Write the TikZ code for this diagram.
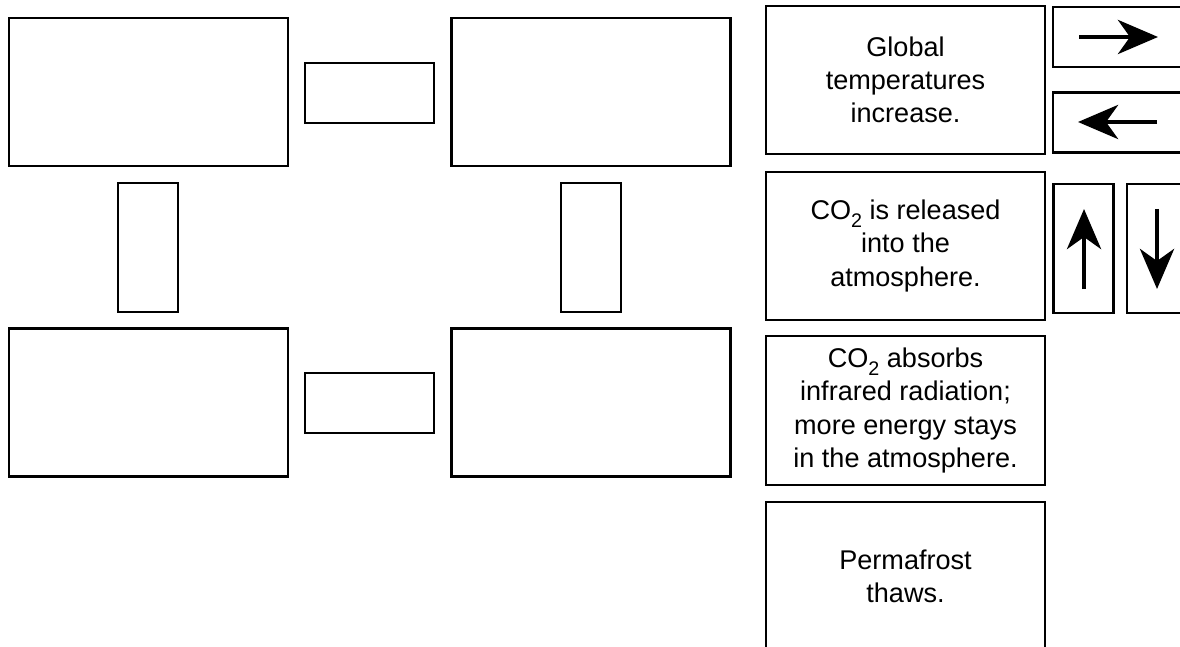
\documentclass[tikz,border=0pt]{standalone}
\usepackage{fontspec}
\setmainfont{Liberation Sans}
\usetikzlibrary{arrows.meta}
\newcommand{\subtwo}{\raisebox{-0.55ex}{\fontsize{5.6pt}{5.6pt}\selectfont 2}}
\tikzset{
  box/.style={draw=black, line width=0.65pt, inner sep=0pt, align=center,
    font=\fontsize{7.7pt}{9.4pt}\selectfont},
  bigbox/.style={box, minimum width=2.79cm, minimum height=1.48cm},
  hbox/.style={box, minimum width=1.29cm, minimum height=0.60cm},
  vbox/.style={box, minimum width=0.60cm, minimum height=1.29cm},
  arr/.style={line width=1.4pt, -{Stealth[length=4.0mm, width=3.4mm, inset=1.2mm]}},
}
\begin{document}
\begin{tikzpicture}[x=0.01cm, y=-0.01cm]
\clip (0,0) rectangle (1180,646);
\fill[white] (0,0) rectangle (1180,646);
% empty layout boxes
\node[bigbox] (a) at (148.5,92) {};
\node[hbox] (h1) at (369.5,93) {};
\node[bigbox] (b) at (591,92) {};
\node[vbox] (v1) at (148,247.5) {};
\node[vbox] (v2) at (591,247.5) {};
\node[bigbox] (c) at (148.5,402.5) {};
\node[hbox] (h2) at (369.5,403) {};
\node[bigbox] (d) at (591,402.5) {};
% statement cards
\node[bigbox] (g) at (905.5,80) {Global\\temperatures\\increase.};
\node[bigbox] (r) at (905.5,246) {CO\subtwo\ is released\\into the\\atmosphere.};
\node[bigbox, minimum height=1.49cm] (ab) at (905.5,410.5) {CO\subtwo\ absorbs\\infrared radiation;\\more energy stays\\in the atmosphere.};
\node[bigbox] (p) at (905.5,576) {Permafrost\\thaws.};
% arrow cards
\node[hbox] (ra) at (1117.5,37) {};
\node[hbox] (la) at (1117.5,122.5) {};
\node[vbox] (ua) at (1083.5,248.5) {};
\node[vbox] (da) at (1157,248.5) {};
\coordinate (ra1) at (1079,37);
\coordinate (ra2) at (1158,37);
\coordinate (la1) at (1157,122);
\coordinate (la2) at (1078,122);
\coordinate (ua1) at (1084,289);
\coordinate (ua2) at (1084,209);
\coordinate (da1) at (1157,209);
\coordinate (da2) at (1157,289);
\draw[arr] (ra1) -- (ra2);
\draw[arr] (la1) -- (la2);
\draw[arr] (ua1) -- (ua2);
\draw[arr] (da1) -- (da2);
\end{tikzpicture}
\end{document}
